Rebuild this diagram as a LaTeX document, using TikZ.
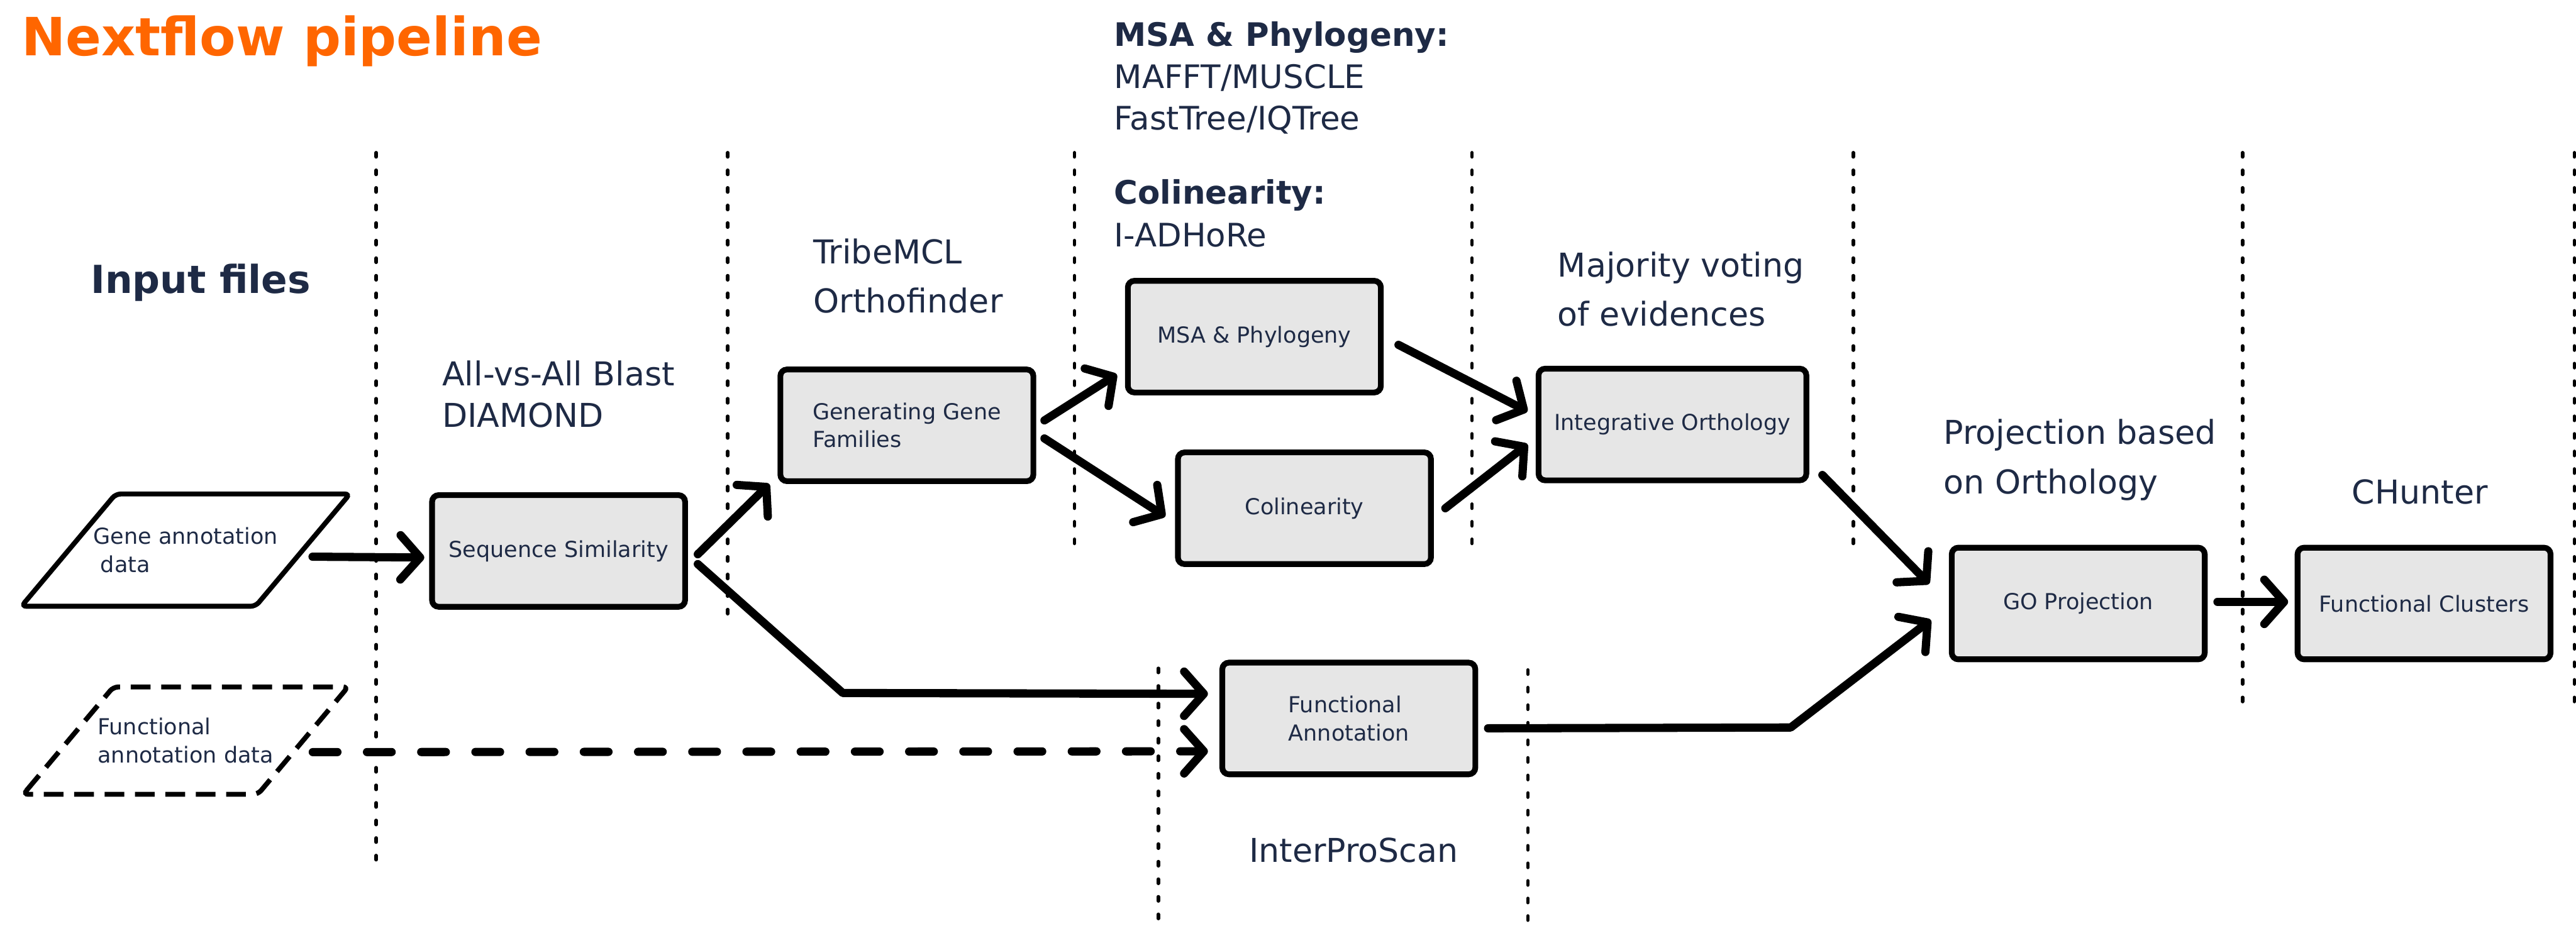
\documentclass[tikz,border=0pt]{standalone}
\usepackage{fontspec}
\setmainfont{DejaVu Sans}
\usepackage{tikz}
\usetikzlibrary{positioning,shapes.geometric,arrows.meta}
\definecolor{navy}{HTML}{1E2A45}
\definecolor{nforange}{HTML}{FF6600}
\definecolor{boxgray}{HTML}{E6E6E6}

\begin{document}
\begin{tikzpicture}[x=1pt,y=-1pt,
	stage/.style={shape=rectangle,draw=black,fill=boxgray,line width=3.5pt,rounded corners=4pt,minimum width=154pt,minimum height=68pt,inner sep=0pt,text=navy,font=\fontsize{13.4}{17}\selectfont,align=center},
	infile/.style={shape=trapezium,trapezium left angle=50,trapezium right angle=130,trapezium stretches body=true,draw=black,fill=white,line width=3pt,rounded corners=3pt,inner xsep=-13.5pt,inner ysep=20.5pt,text=navy,font=\fontsize{13.4}{17}\selectfont,align=left},
	tool/.style={text=navy,font=\fontsize{20}{25}\selectfont,align=left,inner sep=0pt},
	flow/.style={line width=5pt,line cap=round,line join=round,-{Straight Barb[round,length=12pt,width=27pt]}},
	sep/.style={line width=2.2pt,line cap=round,dash pattern=on 2.5pt off 8.2pt}]
	\useasboundingbox (0,0) rectangle (1568,577);

	% stage separators
	\foreach \x/\ya/\yb in {229/93/525,443/93/376,654/93/331,896/93/331,1128/93/331,1365/93/435,1567/93/435,705/407/567,930/408/567}
		\draw[sep] (\x,\ya) -- (\x,\yb);

	% headers
	\node[tool,font=\bfseries\fontsize{32.1}{38}\selectfont,text=nforange,anchor=base west] (title) at (13,34) {Nextflow pipeline};
	\node[tool,font=\bfseries\fontsize{23.5}{28}\selectfont,anchor=base west] (inputs) at (55,178.5) {Input files};
	\node[tool,anchor=west] (blast) at (269,240) {All-vs-All Blast\\DIAMOND};
	\node[tool,font=\fontsize{20}{30}\selectfont,anchor=west] (tribe) at (495,168) {TribeMCL\\Orthofinder};
	\node[tool,font=\fontsize{19.7}{25.5}\selectfont,anchor=west] (msatools) at (678,47.5) {\textbf{MSA \& Phylogeny:}\\MAFFT/MUSCLE\\FastTree/IQTree};
	\node[tool,font=\fontsize{19.7}{26}\selectfont,anchor=west] (coltools) at (678,130) {\textbf{Colinearity:}\\I-ADHoRe};
	\node[tool,font=\fontsize{20}{30}\selectfont,anchor=west] (voting) at (948,176) {Majority voting\\of evidences};
	\node[tool,font=\fontsize{20}{30}\selectfont,anchor=west] (projtool) at (1183,280) {Projection based\\on Orthology};
	\node[tool,anchor=base] (chunter) at (1473,307) {CHunter};
	\node[tool,anchor=base] (ipscan) at (824,525) {InterProScan};

	% inputs
	\node[infile] (gene) at (113,335) {Gene annotation\\\ data};
	\node[infile,dash pattern=on 12pt off 6.5pt,inner xsep=-9.5pt,inner ysep=19pt] (fad) at (113,451) {Functional\\annotation data};

	% steps
	\node[stage] (seqsim) at (340,335.5) {Sequence Similarity};
	\node[stage,align=left] (fam) at (552,259) {Generating Gene\\Families};
	\node[stage] (msa) at (763.5,205) {MSA \& Phylogeny};
	\node[stage] (col) at (794,309.5) {Colinearity};
	\node[stage,minimum width=163pt] (integ) at (1018,258.5) {Integrative Orthology};
	\node[stage,align=left] (funann) at (821,437.5) {Functional\\Annotation};
	\node[stage] (go) at (1265,367.5) {GO Projection};
	\node[stage] (clus) at (1475.5,367.5) {Functional Clusters};

	\coordinate (bendA) at (513,422);
	\coordinate (bendB) at (1090,443);

	\draw[flow] ([xshift=4pt,yshift=-4pt]gene.east) -- ([xshift=-3pt,yshift=-4pt]seqsim.west);
	\draw[flow] ([xshift=6pt,yshift=-2pt]seqsim.east) -- ([xshift=-5pt]fam.south west);
	\draw[flow] ([xshift=6pt,yshift=-8pt]seqsim.east) -- (bendA) -- ([xshift=-7pt,yshift=15pt]funann.west);
	\draw[flow,dash pattern=on 15pt off 18pt] ([xshift=4pt,yshift=-7pt]fad.east) -- ([xshift=-7pt,yshift=-20pt]funann.west);
	\draw[flow] ([xshift=5pt,yshift=3pt]fam.east) -- ([xshift=-5pt,yshift=-23pt]msa.west);
	\draw[flow] ([xshift=5pt,yshift=-8pt]fam.east) -- ([xshift=-6pt,yshift=-5pt]col.west);
	\draw[flow] ([xshift=9pt,yshift=-5pt]msa.east) -- ([xshift=-5pt,yshift=8pt]integ.west);
	\draw[flow] ([xshift=7pt]col.east) -- ([xshift=-5pt,yshift=-12pt]integ.west);
	\draw[flow] ([xshift=8pt,yshift=5pt]integ.south east) -- ([xshift=-12pt,yshift=12pt]go.west);
	\draw[flow] ([xshift=6pt,yshift=-6pt]funann.east) -- (bendB) -- ([xshift=-11pt,yshift=-10pt]go.west);
	\draw[flow] ([xshift=6pt,yshift=1pt]go.east) -- ([xshift=-4pt,yshift=1pt]clus.west);
\end{tikzpicture}
\end{document}
